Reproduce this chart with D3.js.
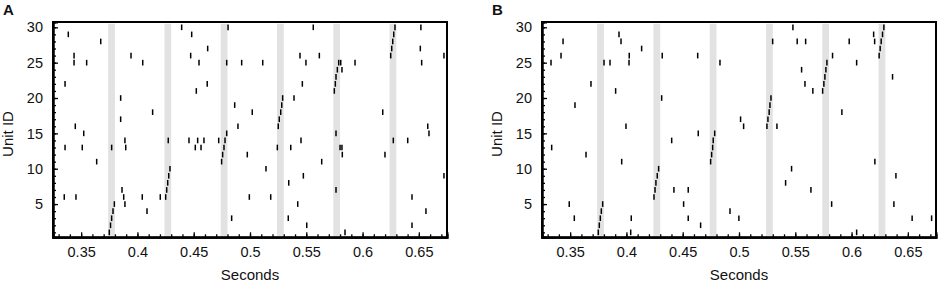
<!DOCTYPE html>
<html>
<head>
<meta charset="utf-8">
<script src="https://cdn.jsdelivr.net/npm/d3@7"></script>
<style>
  body { margin: 0; background: #fff; }
  svg text { font-family: "Liberation Sans", Arial, sans-serif; fill: #111; }
  .axis path, .axis line { stroke: #000; }
  .axis path { stroke-width: 2; }
  .axis line { stroke-width: 1.3; }
</style>
</head>
<body>
<div id="d3-container"></div>
<script>
/* CONSTANTS AND GLOBALS */
const width = 945,
  height = 286,
  margin = { top: 22, bottom: 48.7 },
  plotWidth = 394;

// left edge of each panel's plot box
const panelLeft = { A: 53, B: 542 };

// stimulus windows (grey bands), start time in seconds, each 6 ms long
const bandStarts = [0.374, 0.424, 0.474, 0.524, 0.574, 0.624];
const bandLength = 0.006;

const xTicks = [0.35, 0.4, 0.45, 0.5, 0.55, 0.6, 0.65];
const yTicks = [5, 10, 15, 20, 25, 30];

// spikes as [time (s), unit id]
const spikesA = [
  [0.3386, 29], [0.3674, 28], [0.3437, 26], [0.3437, 25], [0.3549, 25],
  [0.3357, 22], [0.3448, 16], [0.3523, 15], [0.3357, 13], [0.3510, 13],
  [0.3771, 13], [0.3851, 20], [0.3851, 17], [0.3889, 14], [0.3896, 13],
  [0.3943, 26], [0.4047, 25], [0.4135, 18], [0.4274, 14], [0.4393, 30],
  [0.4482, 29], [0.4473, 26], [0.4547, 25], [0.4624, 27], [0.4620, 22],
  [0.4523, 21], [0.4458, 14], [0.4535, 14], [0.4591, 14], [0.4722, 14],
  [0.4514, 13], [0.4565, 13], [0.4805, 30], [0.4793, 25], [0.4864, 19],
  [0.4893, 16], [0.3638, 11], [0.3350, 6], [0.3454, 6],
  [0.3750, 1], [0.3761, 2], [0.3771, 3], [0.3783, 4], [0.3795, 5],
  [0.3863, 7], [0.3878, 6], [0.3889, 5], [0.4043, 6], [0.4085, 4], [0.4203, 6],
  [0.4251, 6], [0.4260, 7], [0.4269, 8], [0.4278, 9], [0.4289, 10],
  [0.4748, 11], [0.4757, 12], [0.4769, 13], [0.4778, 14], [0.4793, 15],
  [0.4837, 3], [0.5562, 30], [0.6518, 30], [0.5444, 26], [0.5616, 26],
  [0.5497, 25], [0.4926, 25], [0.5113, 25], [0.5806, 25], [0.5817, 24],
  [0.5749, 21], [0.5758, 22], [0.5764, 23], [0.5776, 24], [0.5788, 25],
  [0.5933, 25], [0.5465, 22], [0.6513, 27], [0.6525, 25], [0.6723, 26],
  [0.6250, 26], [0.6259, 27], [0.6268, 28], [0.6277, 29], [0.6288, 30],
  [0.5251, 16], [0.5260, 17], [0.5273, 18], [0.5282, 19], [0.5290, 20],
  [0.5391, 20], [0.5020, 18], [0.6179, 18], [0.6579, 16], [0.6590, 15],
  [0.5764, 15], [0.5453, 14], [0.6273, 14], [0.6401, 14], [0.5243, 13],
  [0.5362, 13], [0.5800, 13], [0.5817, 13], [0.5820, 12], [0.4976, 12],
  [0.6199, 12], [0.5637, 11], [0.5142, 10], [0.5474, 9], [0.6723, 9],
  [0.5344, 8], [0.5764, 7], [0.4994, 6], [0.5184, 6], [0.6439, 6],
  [0.5424, 5], [0.6563, 4], [0.5340, 3], [0.6439, 2], [0.5504, 2], [0.5844, 1]
];

const spikesB = [
  [0.3330, 25], [0.3419, 26], [0.3437, 28], [0.3685, 22], [0.3543, 19],
  [0.3336, 13], [0.3801, 25], [0.3854, 25], [0.3934, 29], [0.3952, 28],
  [0.3904, 21], [0.4025, 26], [0.4023, 25], [0.4135, 27], [0.3996, 16],
  [0.4318, 26], [0.4313, 20], [0.4402, 14], [0.4633, 26], [0.4638, 15],
  [0.3641, 12], [0.3958, 11], [0.3492, 5], [0.3537, 3],
  [0.3750, 1], [0.3759, 2], [0.3768, 3], [0.3777, 4], [0.3789, 5],
  [0.4043, 3], [0.4038, 1],
  [0.4245, 6], [0.4254, 7], [0.4262, 8], [0.4274, 9], [0.4286, 10],
  [0.4422, 7], [0.4549, 7], [0.4508, 5], [0.4549, 3], [0.4659, 2], [0.4831, 25],
  [0.4748, 11], [0.4757, 12], [0.4766, 13], [0.4771, 14], [0.4784, 15],
  [0.5299, 28], [0.5479, 30], [0.5517, 28], [0.5592, 28], [0.5556, 24],
  [0.5586, 22], [0.5656, 21],
  [0.5743, 21], [0.5754, 22], [0.5763, 23], [0.5772, 24], [0.5781, 25],
  [0.5831, 26], [0.5979, 28], [0.6045, 25], [0.5914, 18], [0.6196, 29], [0.6205, 28],
  [0.6245, 26], [0.6254, 27], [0.6263, 28], [0.6275, 29], [0.6287, 30],
  [0.6364, 23],
  [0.5248, 16], [0.5257, 17], [0.5268, 18], [0.5275, 19], [0.5284, 20],
  [0.5337, 16], [0.5014, 17], [0.5041, 16], [0.4920, 4], [0.4999, 3],
  [0.5467, 10], [0.5414, 8], [0.5639, 7], [0.5823, 5], [0.6045, 1],
  [0.6207, 11], [0.6394, 9], [0.6376, 5], [0.6538, 3], [0.6711, 3]
];

const svg = d3
  .select("#d3-container")
  .append("svg")
  .attr("width", width)
  .attr("height", height);

const xScale = d3
  .scaleLinear()
  .domain([0.325, 0.675])
  .range([0, plotWidth]);

const yScale = d3
  .scaleLinear()
  .domain([0.3, 30.75])
  .range([height - margin.bottom - margin.top, 0]);

const plotHeight = height - margin.bottom - margin.top;

function drawPanel(label, spikes) {
  const left = panelLeft[label];
  const g = svg.append("g").attr("transform", `translate(${left},${margin.top})`);

  // grey stimulus bands
  g.selectAll("rect.band")
    .data(bandStarts)
    .join("rect")
    .attr("class", "band")
    .attr("x", d => xScale(d))
    .attr("width", d => xScale(d + bandLength) - xScale(d))
    .attr("y", yScale(30.5))
    .attr("height", yScale(0.5) - yScale(30.5))
    .attr("fill", "#e2e2e2");

  // raster ticks
  g.selectAll("line.spike")
    .data(spikes)
    .join("line")
    .attr("class", "spike")
    .attr("x1", d => xScale(d[0]))
    .attr("x2", d => xScale(d[0]))
    .attr("y1", d => yScale(d[1] - 0.4))
    .attr("y2", d => yScale(d[1] + 0.4))
    .attr("stroke", "#000")
    .attr("stroke-width", 1.5);

  // minor ticks (every 0.01 s / every unit), pointing inward
  g.append("g")
    .attr("class", "axis")
    .attr("transform", `translate(0,${plotHeight})`)
    .call(d3.axisBottom(xScale).tickValues(d3.range(33, 68).map(i => i / 100)).tickSize(-3).tickFormat(""));
  g.append("g")
    .attr("class", "axis")
    .call(d3.axisLeft(yScale).tickValues(d3.range(1, 31)).tickSize(-3).tickFormat(""));

  // major ticks with labels
  const xAxis = g.append("g")
    .attr("class", "axis")
    .attr("transform", `translate(0,${plotHeight})`)
    .call(d3.axisBottom(xScale).tickValues(xTicks).tickSize(-5).tickPadding(9).tickFormat(d => d3.format("")(+d.toFixed(2))));
  const yAxis = g.append("g")
    .attr("class", "axis")
    .call(d3.axisLeft(yScale).tickValues(yTicks).tickSize(-5).tickPadding(10));
  [xAxis, yAxis].forEach(a => a.selectAll("text").attr("font-size", 14.5).attr("fill", "#111").style("font-family", null));
  svg.selectAll(".axis path").attr("stroke-width", 2);

  // frame
  g.append("rect")
    .attr("width", plotWidth)
    .attr("height", plotHeight)
    .attr("fill", "none")
    .attr("stroke", "#000")
    .attr("stroke-width", 2);

  // axis titles
  svg.append("text")
    .attr("x", left + plotWidth / 2)
    .attr("y", 280)
    .attr("text-anchor", "middle")
    .attr("font-size", 15)
    .text("Seconds");

  svg.append("text")
    .attr("transform", `translate(${left - 40},134) rotate(-90)`)
    .attr("text-anchor", "middle")
    .attr("font-size", 15)
    .text("Unit ID");

  // panel letter
  svg.append("text")
    .attr("x", left - 50)
    .attr("y", 15)
    .attr("font-size", 15)
    .attr("font-weight", "bold")
    .text(label);
}

drawPanel("A", spikesA);
drawPanel("B", spikesB);
</script>
</body>
</html>
